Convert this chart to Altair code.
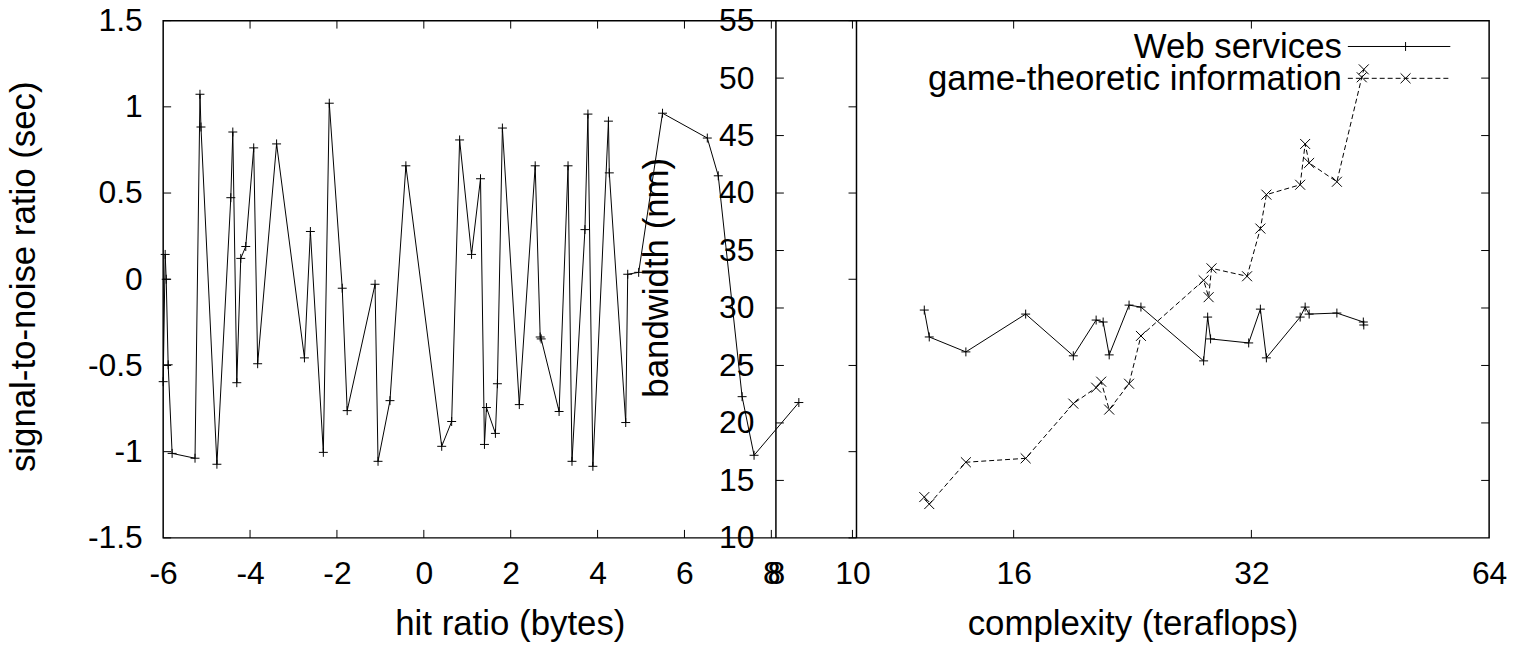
import altair as alt
import pandas as pd

# ---------------- data ----------------
# left panel: hit ratio (bytes) vs signal-to-noise ratio (sec)
hit_x = [-6.00, -5.954, -5.93, -5.885, -5.794, -5.267, -5.153, -5.13, -4.763, -4.443,
         -4.397, -4.305, -4.214, -4.099, -3.916, -3.825, -3.389, -2.748, -2.611, -2.313,
         -2.176, -1.878, -1.764, -1.123, -1.054, -0.779, -0.413, 0.412, 0.641, 0.824,
         1.099, 1.305, 1.396, 1.442, 1.648, 1.694, 1.809, 2.198, 2.564, 2.679,
         2.702, 3.114, 3.320, 3.411, 3.709, 3.778, 3.892, 4.25, 4.27, 4.648,
         4.694, 4.946, 5.495, 6.526, 6.778, 7.327, 7.602, 8.633]
snr = [-0.594, 0.144, 0.0, -0.496, -1.010, -1.038, 1.073, 0.883, -1.073, 0.473,
       0.854, -0.600, 0.121, 0.190, 0.762, -0.490, 0.785, -0.456, 0.277, -1.004,
       1.021, -0.052, -0.762, -0.029, -1.056, -0.704, 0.658, -0.969, -0.825, 0.808,
       0.144, 0.583, -0.958, -0.744, -0.894, -0.606, 0.877, -0.727, 0.658, -0.335,
       -0.346, -0.767, 0.658, -1.056, 0.288, 0.958, -1.085, 0.917, 0.617, -0.831,
       0.029, 0.040, 0.963, 0.819, 0.600, -0.681, -1.021, -0.715]

# right panel: complexity (teraflops) vs bandwidth (nm)
web_x = [12.33, 12.51, 13.92, 16.57, 19.04, 20.35, 20.77, 21.14, 22.40, 23.19,
         27.84, 28.17, 28.41, 31.75, 32.85, 33.43, 36.89, 37.43, 37.87, 41.06,
         44.35, 44.41]
web_y = [29.82, 27.48, 26.18, 29.47, 25.84, 28.95, 28.78, 25.92, 30.25, 30.08,
         25.40, 29.21, 27.31, 26.96, 29.90, 25.66, 29.21, 30.08, 29.47, 29.56,
         28.78, 28.52]
game_x = [12.33, 12.51, 13.92, 16.57, 19.04, 20.35, 20.65, 21.14, 22.40, 23.19,
          27.84, 28.25, 28.49, 31.60, 32.85, 33.43, 36.89, 37.43, 37.87, 41.06,
          44.15, 44.41]
game_y = [13.55, 12.94, 16.58, 16.92, 21.68, 23.07, 23.59, 21.16, 23.41, 27.57,
          32.41, 30.94, 33.45, 32.76, 36.91, 39.86, 40.72, 44.27, 42.62, 40.98,
          50.07, 50.76]

legend_labels = ["Web services", "game-theoretic information"]

left_xtick_labels = [-6, -4, -2, 0, 2, 4, 6, 8]
left_ytick_labels = [-1.5, -1, -0.5, 0, 0.5, 1, 1.5]
right_xtick_labels = [8, 10, 16, 32, 64]
right_ytick_labels = [10, 15, 20, 25, 30, 35, 40, 45, 50, 55]

left_xdomain = [-6, 9.96]
left_ydomain = [-1.5, 1.5]
right_xdomain = [8, 64]
right_ydomain = [10, 55]

# ---------------- layout / style ----------------
W, H = 1333, 520
LW = 697          # width of the left panel
RX0 = 616         # left edge of the right panel
TL = 8            # tick length
FONT = "Liberation Sans"
FS = 32           # tick labels
TFS = 35          # titles and legend
PLUS = "M-1,0L1,0M0,-1L0,1"
CROSS = "M-1,-1L1,1M-1,1L1,-1"

common_axis = dict(ticks=False, tickSize=0, domain=False, grid=False,
                   labelOverlap=False, labelFlush=False,
                   labelExpr="toString(datum.value)")

xl = alt.X("x:Q",
           scale=alt.Scale(domain=left_xdomain, range=[0, LW], nice=False, zero=False),
           axis=alt.Axis(orient="bottom", values=left_xtick_labels,
                         title="hit ratio (bytes)", labelPadding=46,
                         labelBaseline="alphabetic", titleY=97,
                         titleBaseline="alphabetic", **common_axis))
yl = alt.Y("y:Q",
           scale=alt.Scale(domain=left_ydomain, nice=False, zero=False),
           axis=alt.Axis(orient="left", values=left_ytick_labels,
                         title="signal-to-noise ratio (sec)", labelPadding=21,
                         titleX=-129, titleY=257, titleAngle=270,
                         titleBaseline="alphabetic", **common_axis))
xr = alt.X("x:Q",
           scale=alt.Scale(type="log", domain=right_xdomain, range=[RX0, W], nice=False),
           axis=alt.Axis(orient="bottom", values=right_xtick_labels,
                         title="complexity (teraflops)", labelPadding=46,
                         labelBaseline="alphabetic", titleY=97,
                         titleBaseline="alphabetic", **common_axis))
yr = alt.Y("y:Q",
           scale=alt.Scale(domain=right_ydomain, nice=False, zero=False),
           axis=alt.Axis(orient="left", offset=-RX0, values=right_ytick_labels,
                         title="bandwidth (nm)", labelPadding=22,
                         titleX=-109, titleY=258, titleAngle=270,
                         titleBaseline="alphabetic", **common_axis))

def df(**kw):
    return pd.DataFrame(kw)

# ---------------- left group ----------------
left_df = df(x=hit_x, y=snr)
left_layers = [
    alt.Chart(left_df).mark_line(color="black", strokeWidth=1).encode(x=xl, y=yl),
    alt.Chart(left_df).mark_point(shape=PLUS, size=81, color="black", strokeWidth=1,
                                  filled=False, opacity=1).encode(x=xl, y=yl),
    # x ticks (inward, bottom and top)
    alt.Chart(df(x=left_xtick_labels[1:])).mark_rule(color="black", strokeWidth=1)
        .encode(x=xl, y=alt.value(H), y2=alt.value(H - TL)),
    alt.Chart(df(x=left_xtick_labels[1:])).mark_rule(color="black", strokeWidth=1)
        .encode(x=xl, y=alt.value(0), y2=alt.value(TL)),
    # y ticks (inward, left and mirrored at right border of left panel)
    alt.Chart(df(y=left_ytick_labels)).mark_rule(color="black", strokeWidth=1)
        .encode(y=yl, x=alt.value(0), x2=alt.value(TL)),
    alt.Chart(df(y=left_ytick_labels)).mark_rule(color="black", strokeWidth=1)
        .encode(y=yl, x=alt.value(LW - TL), x2=alt.value(LW)),
    # right border of left panel
    alt.Chart(df(x=[left_xdomain[1]])).mark_rule(color="black", strokeWidth=1.5)
        .encode(x=xl),
]
left_group = alt.layer(*left_layers)

# ---------------- right group ----------------
web_df = df(x=web_x, y=web_y)
game_df = df(x=game_x, y=game_y)
right_layers = [
    alt.Chart(web_df).mark_line(color="black", strokeWidth=1).encode(x=xr, y=yr),
    alt.Chart(web_df).mark_point(shape=PLUS, size=81, color="black", strokeWidth=1,
                                 filled=False, opacity=1).encode(x=xr, y=yr),
    alt.Chart(game_df).mark_line(color="black", strokeWidth=1, strokeDash=[5, 3])
        .encode(x=xr, y=yr),
    alt.Chart(game_df).mark_point(shape=CROSS, size=100, color="black", strokeWidth=1,
                                  filled=False, opacity=1).encode(x=xr, y=yr),
    alt.Chart(df(x=right_xtick_labels[1:-1])).mark_rule(color="black", strokeWidth=1)
        .encode(x=xr, y=alt.value(H), y2=alt.value(H - TL)),
    alt.Chart(df(x=right_xtick_labels[1:-1])).mark_rule(color="black", strokeWidth=1)
        .encode(x=xr, y=alt.value(0), y2=alt.value(TL)),
    alt.Chart(df(y=right_ytick_labels[1:-1])).mark_rule(color="black", strokeWidth=1)
        .encode(y=yr, x=alt.value(RX0), x2=alt.value(RX0 + TL)),
    alt.Chart(df(y=right_ytick_labels[1:-1])).mark_rule(color="black", strokeWidth=1)
        .encode(y=yr, x=alt.value(W - TL), x2=alt.value(W)),
    # left border of right panel
    alt.Chart(df(x=[right_xdomain[0]])).mark_rule(color="black", strokeWidth=1.5)
        .encode(x=xr),
]

# legend (gnuplot style: text on the left, sample on the right)
leg_rows = [(legend_labels[0], 26, None, PLUS, 81), (legend_labels[1], 58, [5, 3], CROSS, 100)]
for label, ly, dash, shape, msize in leg_rows:
    one = df(label=[label])
    right_layers.append(
        alt.Chart(one).mark_text(align="right", baseline="middle", font=FONT,
                                 fontSize=TFS, color="black")
        .encode(text="label:N", x=alt.value(1185), y=alt.value(ly + 1)))
    rule_kw = dict(color="black", strokeWidth=1)
    if dash:
        rule_kw["strokeDash"] = dash
    right_layers.append(
        alt.Chart(one).mark_rule(**rule_kw)
        .encode(x=alt.value(1191), x2=alt.value(1294), y=alt.value(ly)))
    right_layers.append(
        alt.Chart(one).mark_point(shape=shape, size=msize, color="black", strokeWidth=1,
                                  filled=False, opacity=1)
        .encode(x=alt.value(1249), y=alt.value(ly)))

right_group = alt.layer(*right_layers)

chart = (
    alt.layer(left_group, right_group)
    .resolve_scale(x="independent", y="independent")
    .properties(width=W, height=H,
                autosize=alt.AutoSizeParams(type="none"),
                padding={"left": 156, "top": 11, "right": 23, "bottom": 107})
    .configure_view(stroke="black", strokeWidth=1.5)
    .configure_axis(labelFont=FONT, labelFontSize=FS, labelColor="black",
                    titleFont=FONT, titleFontSize=TFS, titleFontWeight="normal",
                    titleColor="black")
)

chart.save("out.html", embed_options={"renderer": "svg", "actions": False})
